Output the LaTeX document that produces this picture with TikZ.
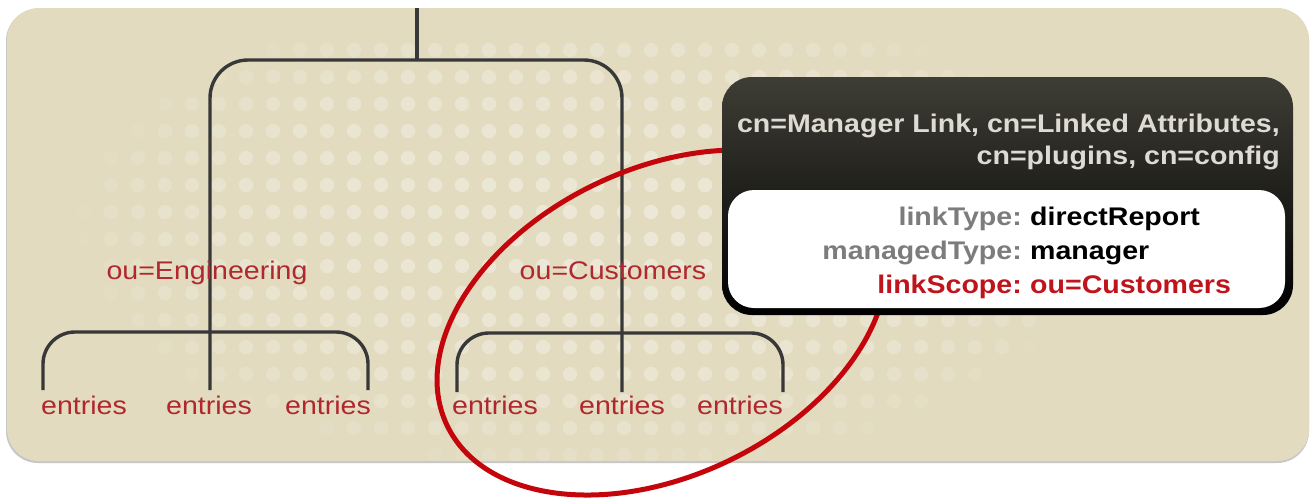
\documentclass[tikz,border=0pt]{standalone}
\usepackage{fontspec}
\setmainfont{Liberation Sans}[FakeStretch=1.12]
\definecolor{bgc}{HTML}{E2DBC0}
\definecolor{dotc}{HTML}{EFEBDC}
\definecolor{treec}{HTML}{383838}
\definecolor{lblred}{HTML}{B0282E}
\definecolor{ringred}{HTML}{C4060C}
\definecolor{hdrc}{HTML}{DEDCD2}
\definecolor{keyc}{HTML}{7C7C7C}
\definecolor{boxtop}{HTML}{3E3D35}
\definecolor{linkred}{HTML}{C0141C}
\begin{document}
\begin{tikzpicture}[x=1pt,y=-1pt,
  tree/.style={draw=treec, line width=3.4pt},
  lbl/.style={text=lblred, inner sep=0pt, anchor=base, font=\fontsize{25.5}{30}\selectfont},
  hdr/.style={text=hdrc, inner sep=0pt, anchor=base east, font=\fontsize{25.5}{30}\selectfont\bfseries},
  keytxt/.style={text=keyc, inner sep=0pt, anchor=base east, font=\fontsize{25.5}{30}\selectfont\bfseries},
  valtxt/.style={text=black, inner sep=0pt, anchor=base west, font=\fontsize{25.5}{30}\selectfont\bfseries},
  ring/.style={draw=ringred, line width=5pt}]
\useasboundingbox (0,0) rectangle (1311,499);
\fill[white] (0,0) rectangle (1311,499);
% background panel
\fill[black!22, rounded corners=32] (6,9) rectangle (1309,463);
\fill[bgc, rounded corners=32] (7,8) rectangle (1309,461);
% dot pattern
\begin{scope}
\clip[rounded corners=32] (7,8) rectangle (1309,461);
\foreach \i in {0,...,35}{
  \foreach \j in {0,...,15}{
    \pgfmathsetmacro\xx{84+27*\i}
    \pgfmathsetmacro\yy{50+27*\j}
    \pgfmathsetmacro\op{max(0,1-((\xx-590)/510)^2-((\yy-230)/240)^2)}
    \ifdim\op pt>0.01pt
      \pgfmathsetmacro\opp{0.8*sqrt(\op)}
      \fill[dotc, opacity=\opp] (\xx,\yy) circle[radius=7.2pt];
    \fi
  }
}
\end{scope}
% tree coordinates
\coordinate (rootTop) at (417,8);
\coordinate (rootJ) at (417,60);
\coordinate (engStem) at (210,390);
\coordinate (custStem) at (622,392);
\coordinate (engL) at (43,390);
\coordinate (engBar) at (210,332);
\coordinate (engR) at (368,390);
\coordinate (custL) at (457,392);
\coordinate (custBar) at (622,333);
\coordinate (custR) at (783,392);
% tree lines
\draw[tree] (rootTop) -- (rootJ);
\draw[tree, rounded corners=38] (engStem) |- (rootJ) -| (custStem);
\draw[tree, rounded corners=32] (engL) |- (engBar) -| (engR);
\draw[tree, rounded corners=32] (custL) |- (custBar) -| (custR);
% labels
\node[lbl] (eng) at (207,279) {ou=Engineering};
\node[lbl] (cust) at (613,279) {ou=Customers};
\node[lbl] (e1) at (84,414) {entries};
\node[lbl] (e2) at (209,414) {entries};
\node[lbl] (e3) at (328,414) {entries};
\node[lbl] (e4) at (495,414) {entries};
\node[lbl] (e5) at (622,414) {entries};
\node[lbl] (e6) at (740,414) {entries};
% red ring
\coordinate (ringc) at (662,322.5);
\draw[ring, rotate around={25.6:(ringc)}] (ringc) ellipse [x radius=238.3pt, y radius=153.5pt];
% configuration box
\shade[rounded corners=30, top color=boxtop, bottom color=black] (722,77) rectangle (1293,315);
\fill[white, rounded corners=26] (728,190) rectangle (1285,308);
\node[hdr] (h1) at (1280,132) {cn=Manager Link, cn=Linked Attributes,};
\node[hdr] (h2) at (1280,164) {cn=plugins, cn=config};
\node[keytxt] (k1) at (1022,225) {linkType:};
\node[valtxt] (v1) at (1030,225) {directReport};
\node[keytxt] (k2) at (1022,259) {managedType:};
\node[valtxt] (v2) at (1030,259) {manager};
\node[keytxt, text=linkred] (k3) at (1022,293) {linkScope:};
\node[valtxt, text=linkred] (v3) at (1030,293) {ou=Customers};
\end{tikzpicture}
\end{document}
